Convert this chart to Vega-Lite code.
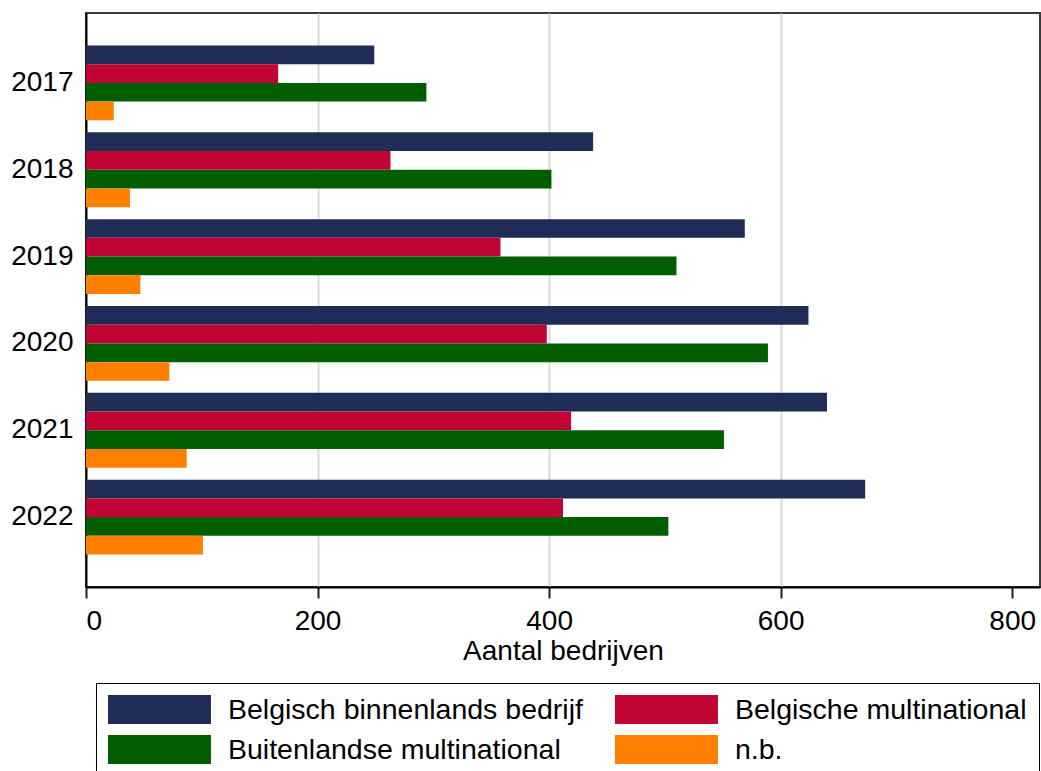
{
  "$schema": "https://vega.github.io/schema/vega-lite/v6.json",
  "width": 954,
  "height": 574,
  "autosize": {"type": "none"},
  "padding": {"left": 86, "top": 13, "right": 1, "bottom": 184},
  "background": "white",
  "config": {
    "font": "Liberation Sans",
    "view": {"stroke": "#3a3a3a", "strokeWidth": 2}
  },
  "data": {
    "values": [
      {"jaar": "2017", "type": "Belgisch binnenlands bedrijf", "aantal": 249},
      {"jaar": "2017", "type": "Belgische multinational", "aantal": 166},
      {"jaar": "2017", "type": "Buitenlandse multinational", "aantal": 294},
      {"jaar": "2017", "type": "n.b.", "aantal": 24},
      {"jaar": "2018", "type": "Belgisch binnenlands bedrijf", "aantal": 438},
      {"jaar": "2018", "type": "Belgische multinational", "aantal": 263},
      {"jaar": "2018", "type": "Buitenlandse multinational", "aantal": 402},
      {"jaar": "2018", "type": "n.b.", "aantal": 38},
      {"jaar": "2019", "type": "Belgisch binnenlands bedrijf", "aantal": 569},
      {"jaar": "2019", "type": "Belgische multinational", "aantal": 358},
      {"jaar": "2019", "type": "Buitenlandse multinational", "aantal": 510},
      {"jaar": "2019", "type": "n.b.", "aantal": 47},
      {"jaar": "2020", "type": "Belgisch binnenlands bedrijf", "aantal": 624},
      {"jaar": "2020", "type": "Belgische multinational", "aantal": 398},
      {"jaar": "2020", "type": "Buitenlandse multinational", "aantal": 589},
      {"jaar": "2020", "type": "n.b.", "aantal": 72},
      {"jaar": "2021", "type": "Belgisch binnenlands bedrijf", "aantal": 640},
      {"jaar": "2021", "type": "Belgische multinational", "aantal": 419},
      {"jaar": "2021", "type": "Buitenlandse multinational", "aantal": 551},
      {"jaar": "2021", "type": "n.b.", "aantal": 87},
      {"jaar": "2022", "type": "Belgisch binnenlands bedrijf", "aantal": 673},
      {"jaar": "2022", "type": "Belgische multinational", "aantal": 412},
      {"jaar": "2022", "type": "Buitenlandse multinational", "aantal": 503},
      {"jaar": "2022", "type": "n.b.", "aantal": 101}
    ]
  },
  "mark": {"type": "bar", "strokeWidth": 0},
  "encoding": {
    "y": {
      "field": "jaar",
      "type": "nominal",
      "sort": ["2017", "2018", "2019", "2020", "2021", "2022"],
      "scale": {"paddingInner": 0.138, "paddingOuter": 0.374},
      "axis": {
        "title": null,
        "ticks": false,
        "tickSize": 0,
        "labelPadding": 13,
        "labelFontSize": 28,
        "labelColor": "#000000",
        "labelFont": "Liberation Sans",
        "domainColor": "#000000",
        "domainWidth": 2,
        "grid": false
      }
    },
    "yOffset": {
      "field": "type",
      "type": "nominal",
      "sort": ["Belgisch binnenlands bedrijf", "Belgische multinational", "Buitenlandse multinational", "n.b."],
      "scale": {"paddingInner": 0, "paddingOuter": 0}
    },
    "x": {
      "field": "aantal",
      "type": "quantitative",
      "scale": {"domain": [0, 824], "nice": false},
      "axis": {
        "title": "Aantal bedrijven",
        "titleFontSize": 28,
        "titleFontWeight": "normal",
        "titleColor": "#000000",
        "titlePadding": 2,
        "values": [0, 200, 400, 600, 800],
        "labelFontSize": 28,
        "labelColor": "#000000",
        "labelPadding": 9,
        "tickSize": 11,
        "tickWidth": 2,
        "tickColor": "#222222",
        "domainColor": "#000000",
        "domainWidth": 2,
        "grid": true,
        "gridColor": "#dadada",
        "gridWidth": 2,
        "gridOpacity": {"condition": {"test": "datum.value == 0 || datum.value == 800", "value": 0}, "value": 1}
      }
    },
    "color": {
      "field": "type",
      "type": "nominal",
      "scale": {
        "domain": ["Belgisch binnenlands bedrijf", "Belgische multinational", "Buitenlandse multinational", "n.b."],
        "range": ["#1f2c56", "#c00535", "#005d00", "#ff8000"]
      },
      "legend": {
        "title": null,
        "orient": "none",
        "legendX": 10,
        "legendY": 670,
        "direction": "horizontal",
        "columns": 2,
        "symbolType": "M-1,-1L6.1,-1L6.1,1L-1,1Z",
        "symbolSize": 841,
        "symbolStrokeWidth": 0,
        "symbolOpacity": 1,
        "labelFontSize": 28.5,
        "labelFont": "Liberation Sans",
        "labelColor": "#000000",
        "labelOffset": 91,
        "labelLimit": 600,
        "rowPadding": 11,
        "columnPadding": 32,
        "padding": 12,
        "strokeColor": "#000000",
        "fillColor": "#ffffff"
      }
    }
  }
}
